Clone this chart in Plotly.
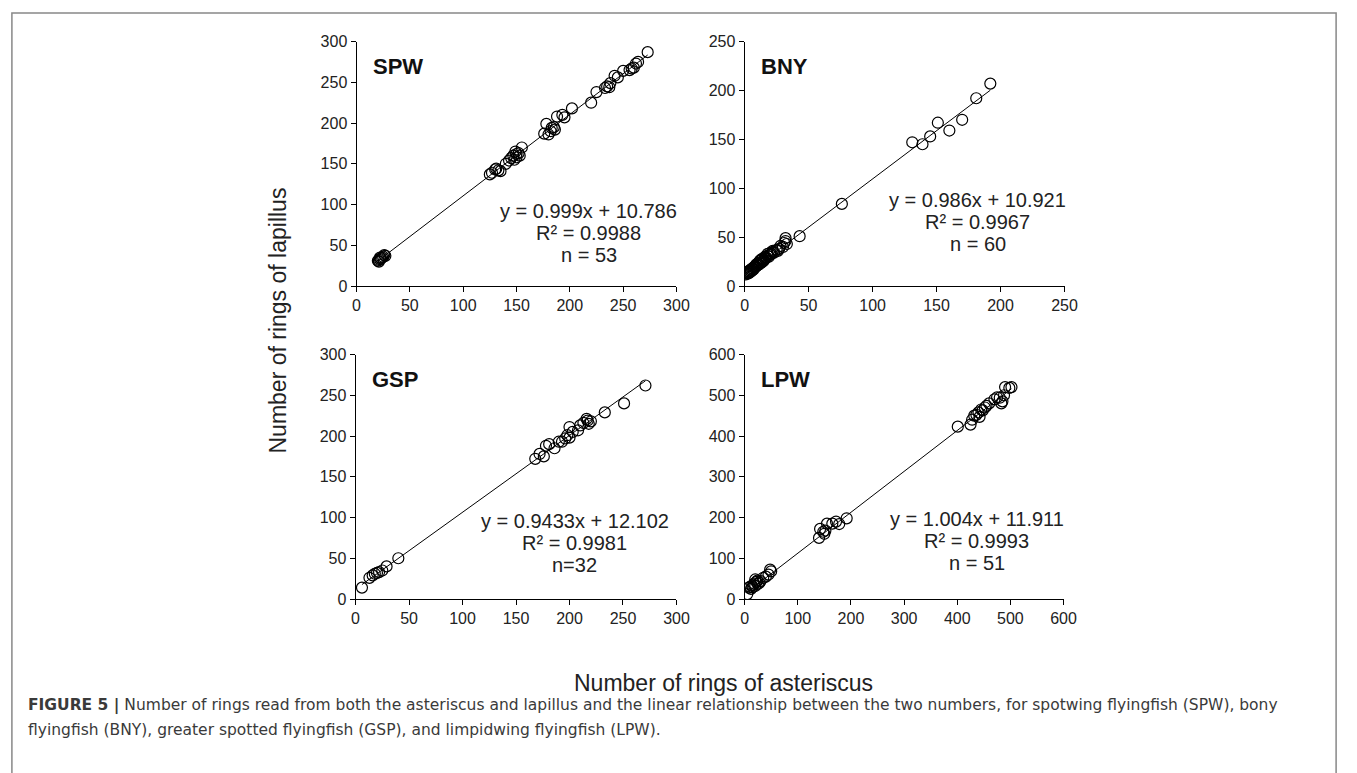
import plotly.graph_objects as go

W, H = 1357, 773


def fx(p):
    return p / W


def fy(p):
    return 1 - p / H


# ---------------- data ----------------
spw_x = [20, 21, 22, 21, 23, 24, 25, 27, 22, 26,
         125, 127, 130, 131, 133, 135, 140, 143, 145, 147, 148, 150, 150, 152, 153, 155, 149,
         176, 178, 180, 182, 183, 185, 186, 188, 193, 195, 202,
         220, 225, 233, 235, 237, 238, 242, 245, 250, 256, 258, 260, 262, 264, 273]
spw_y = [31, 32, 33, 30, 34, 35, 36, 37, 35, 38,
         137, 139, 143, 144, 142, 141, 150, 154, 157, 160, 155, 158, 162, 163, 160, 170, 165,
         187, 199, 186, 190, 194, 195, 192, 208, 210, 207, 218,
         225, 238, 243, 245, 244, 249, 258, 256, 264, 265, 267, 268, 273, 275, 287]

bny_x = [1, 2, 2, 3, 3, 4, 4, 5, 5, 6, 6, 7, 7, 8, 8, 9, 9, 10, 10, 11, 11, 12, 12, 13, 13,
         14, 14, 15, 15, 16, 16, 17, 18, 18, 19, 20, 20, 21, 22, 22, 23, 25, 26, 27, 28, 30,
         31, 32, 32, 33, 43, 76, 131, 139, 145, 151, 160, 170, 181, 192]
bny_y = [12, 13, 14, 15, 13, 14, 16, 15, 17, 16, 18, 17, 19, 19, 20, 20, 22, 21, 23, 22, 24, 23, 26, 24, 27,
         25, 28, 26, 27, 28, 30, 29, 31, 33, 30, 32, 34, 33, 35, 36, 34, 37, 36, 38, 41, 40,
         44, 49, 46, 43, 51, 84, 147, 145, 153, 167, 159, 170, 192, 207]

gsp_x = [6, 13, 16, 18, 20, 22, 25, 29, 40,
         168, 172, 176, 178, 181, 186, 190, 193, 196, 198, 200, 200, 203, 208, 210, 213,
         216, 217, 218, 220, 233, 251, 271]
gsp_y = [14, 26, 29, 31, 32, 33, 35, 40, 50,
         172, 178, 175, 188, 190, 185, 193, 193, 197, 201, 198, 211, 205, 207, 213, 216,
         221, 219, 215, 218, 229, 240, 262]

lpw_x = [5, 8, 10, 12, 14, 15, 17, 18, 20, 22, 24, 25, 28, 30, 35, 40, 45, 50, 48, 20,
         140, 142, 148, 150, 152, 155, 165, 172, 178, 192,
         401, 425, 428, 432, 436, 440, 442, 445, 448, 452, 455, 460, 475, 480, 483, 485,
         488, 490, 498, 502, 470]
lpw_y = [12, 28, 30, 25, 33, 29, 35, 38, 32, 42, 45, 37, 40, 44, 52, 55, 60, 68, 72, 48,
         150, 172, 165, 160, 168, 185, 185, 190, 184, 198,
         423, 428, 440, 450, 452, 458, 447, 465, 463, 470, 474, 480, 495, 494, 480, 485,
         500, 520, 518, 520, 490]

panels = ["SPW", "BNY", "GSP", "LPW"]
slopes = [0.999, 0.986, 0.9433, 1.004]
intercepts = [10.786, 10.921, 12.102, 11.911]
r2_labels = ["0.9988", "0.9967", "0.9981", "0.9993"]
n_labels = ["n = 53", "n = 60", "n=32", "n = 51"]
eq_labels = ["y = 0.999x + 10.786", "y = 0.986x + 10.921", "y = 0.9433x + 12.102", "y = 1.004x + 11.911"]
x_max = [300, 250, 300, 600]
y_max = [300, 250, 300, 600]
x_dtick = [50, 50, 50, 100]
y_dtick = [50, 50, 50, 100]

xs = [spw_x, bny_x, gsp_x, lpw_x]
ys = [spw_y, bny_y, gsp_y, lpw_y]

# ---------------- layout geometry (reference pixels) ----------------
px_x = [(357, 681), (750, 1074), (356, 681), (750, 1073)]
px_y = [(34.3, 284.3), (34.3, 284.3), (354.3, 604.3), (354.3, 604.3)]
eq_cx = [592, 986, 578, 985]
eq_cy = [208, 196, 525, 522]

FONT = "Liberation Sans, Arial, sans-serif"
CAPFONT = "DejaVu Sans, Liberation Sans, Arial, sans-serif"

fig = go.Figure()
layout = dict(width=W, height=H, margin=dict(l=0, r=0, t=0, b=0),
              paper_bgcolor="white", plot_bgcolor="white", showlegend=False,
              font=dict(family=FONT, color="#222222"))
annotations = []

for i in range(4):
    sfx = "" if i == 0 else str(i + 1)
    xa = "x" + sfx
    ya = "y" + sfx
    x0, x1 = px_x[i]
    yt, yb = px_y[i]
    layout["xaxis" + sfx] = dict(
        domain=[fx(x0), fx(x1)], range=[0, x_max[i]], anchor=ya,
        tick0=0, dtick=x_dtick[i], ticks="outside", ticklen=5, tickwidth=1, tickcolor="black",
        showline=True, linecolor="black", linewidth=1, showgrid=False, zeroline=False,
        tickfont=dict(size=16, family=FONT, color="#222222"), fixedrange=True)
    layout["yaxis" + sfx] = dict(
        domain=[fy(yb), fy(yt)], range=[0, y_max[i]], anchor=xa,
        tick0=0, dtick=y_dtick[i], ticks="outside", ticklen=5, tickwidth=1, tickcolor="black",
        showline=True, linecolor="black", linewidth=1, showgrid=False, zeroline=False,
        tickfont=dict(size=16, family=FONT, color="#222222"), fixedrange=True)

    # regression line over data range
    lx = [min(xs[i]), max(xs[i])]
    ly = [slopes[i] * v + intercepts[i] for v in lx]
    fig.add_trace(go.Scatter(x=lx, y=ly, mode="lines", line=dict(color="black", width=1),
                             xaxis=xa, yaxis=ya, hoverinfo="skip"))
    fig.add_trace(go.Scatter(x=xs[i], y=ys[i], mode="markers",
                             marker=dict(symbol="circle-open", size=11,
                                         line=dict(color="black", width=1.2), color="black"),
                             xaxis=xa, yaxis=ya))

    # panel label
    annotations.append(dict(text="<b>%s</b>" % panels[i], xref="paper", yref="paper",
                            x=fx(x0 + 15), y=fy(yt + 26), xanchor="left", yanchor="middle",
                            showarrow=False, font=dict(size=22, family=FONT, color="#111111")))
    # equation block
    for k, t in enumerate([eq_labels[i], "R² = " + r2_labels[i], n_labels[i]]):
        annotations.append(dict(text=t, xref="paper", yref="paper",
                                x=fx(eq_cx[i]), y=fy(eq_cy[i] + 22.5 * k), xanchor="center",
                                yanchor="middle", showarrow=False,
                                font=dict(size=20, family=FONT, color="#222222")))

# axis titles
annotations.append(dict(text="Number of rings of asteriscus", xref="paper", yref="paper",
                        x=fx(729), y=fy(690), xanchor="center", yanchor="middle", showarrow=False,
                        font=dict(size=23, family=FONT, color="#222222")))
annotations.append(dict(text="Number of rings of lapillus", xref="paper", yref="paper",
                        x=fx(277), y=fy(320), xanchor="center", yanchor="middle", showarrow=False,
                        textangle=-90, font=dict(size=23, family=FONT, color="#222222")))

# caption
cap1 = ("<b>FIGURE 5 |</b> Number of rings read from both the asteriscus and lapillus and the linear "
        "relationship between the two numbers, for spotwing flyingfish (SPW), bony")
cap2 = "flyingfish (BNY), greater spotted flyingfish (GSP), and limpidwing flyingfish (LPW)."
annotations.append(dict(text=cap1, xref="paper", yref="paper", x=fx(22), y=fy(713),
                        xanchor="left", yanchor="middle", showarrow=False,
                        font=dict(size=15.5, family=CAPFONT, color="#3a3a3a")))
annotations.append(dict(text=cap2, xref="paper", yref="paper", x=fx(22), y=fy(738),
                        xanchor="left", yanchor="middle", showarrow=False,
                        font=dict(size=15.5, family=CAPFONT, color="#3a3a3a")))

layout["annotations"] = annotations
layout["shapes"] = [dict(type="rect", xref="paper", yref="paper",
                         x0=fx(8), x1=fx(1349), y0=-0.05, y1=fy(5),
                         line=dict(color="#888888", width=1.5), fillcolor="rgba(0,0,0,0)")]
fig.update_layout(**layout)

page_fix = ("document.documentElement.style.margin='0';document.body.style.margin='0';"
            "document.body.style.padding='0';document.body.style.overflow='hidden';"
            "document.documentElement.style.overflow='hidden';")
fig.write_html("out.html", post_script=page_fix)
